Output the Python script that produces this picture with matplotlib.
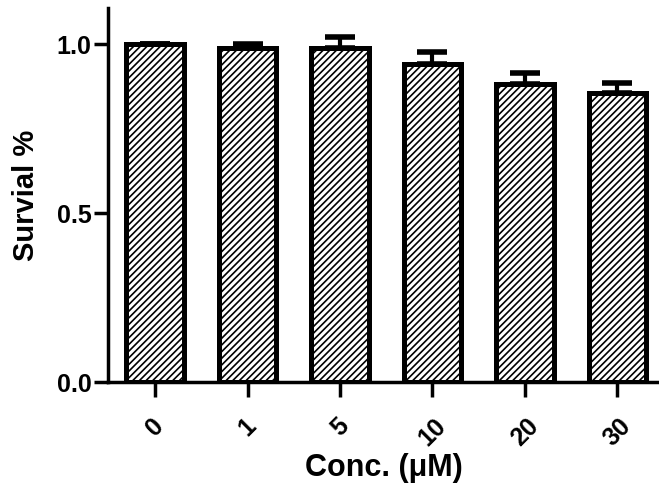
import matplotlib
matplotlib.use("Agg")
import matplotlib.pyplot as plt
import numpy as np

plt.rcParams['font.family'] = ['Liberation Sans', 'DejaVu Sans']
plt.rcParams['font.weight'] = 'bold'
plt.rcParams['hatch.linewidth'] = 1.2

conc = ["0", "1", "5", "10", "20", "30"]
survival = [1.0, 0.988, 0.988, 0.94, 0.882, 0.855]
sem = [0.0, 0.013, 0.033, 0.036, 0.032, 0.03]

fig = plt.figure(figsize=(6.59, 4.93), dpi=100)
ax = fig.add_axes([108/659, 1-382/493, 1-108/659, 374/493])

x = np.arange(len(conc))
ax.errorbar(x, survival, yerr=[np.zeros(len(sem)), sem], fmt='none',
            ecolor='black', elinewidth=3, capsize=11, capthick=4, zorder=1)
ax.bar(x, survival, width=0.62, color='white', edgecolor='black',
       linewidth=3.6, hatch='/////', zorder=2)

ax.set_xlim(-0.51, 5.45)
ax.set_ylim(0, 1.107)
ax.set_yticks([0.0, 0.5, 1.0])
ax.set_yticklabels(["0.0", "0.5", "1.0"])
ax.set_xticks(x)
ax.set_xticklabels(conc, rotation=45, ha='center', va='top')

for s in ['top', 'right']:
    ax.spines[s].set_visible(False)
for s in ['left', 'bottom']:
    ax.spines[s].set_linewidth(2.5)

ax.tick_params(axis='y', length=10, width=2.5, labelsize=18, pad=2)
ax.tick_params(axis='x', length=11, width=2.5, labelsize=18, pad=12)

ax.set_ylabel("Survial %", fontsize=21, fontweight='bold', labelpad=12)
ax.set_xlabel("Conc. (μM)", fontsize=22, fontweight='bold', labelpad=2)

fig.savefig("out.png", dpi=100)
